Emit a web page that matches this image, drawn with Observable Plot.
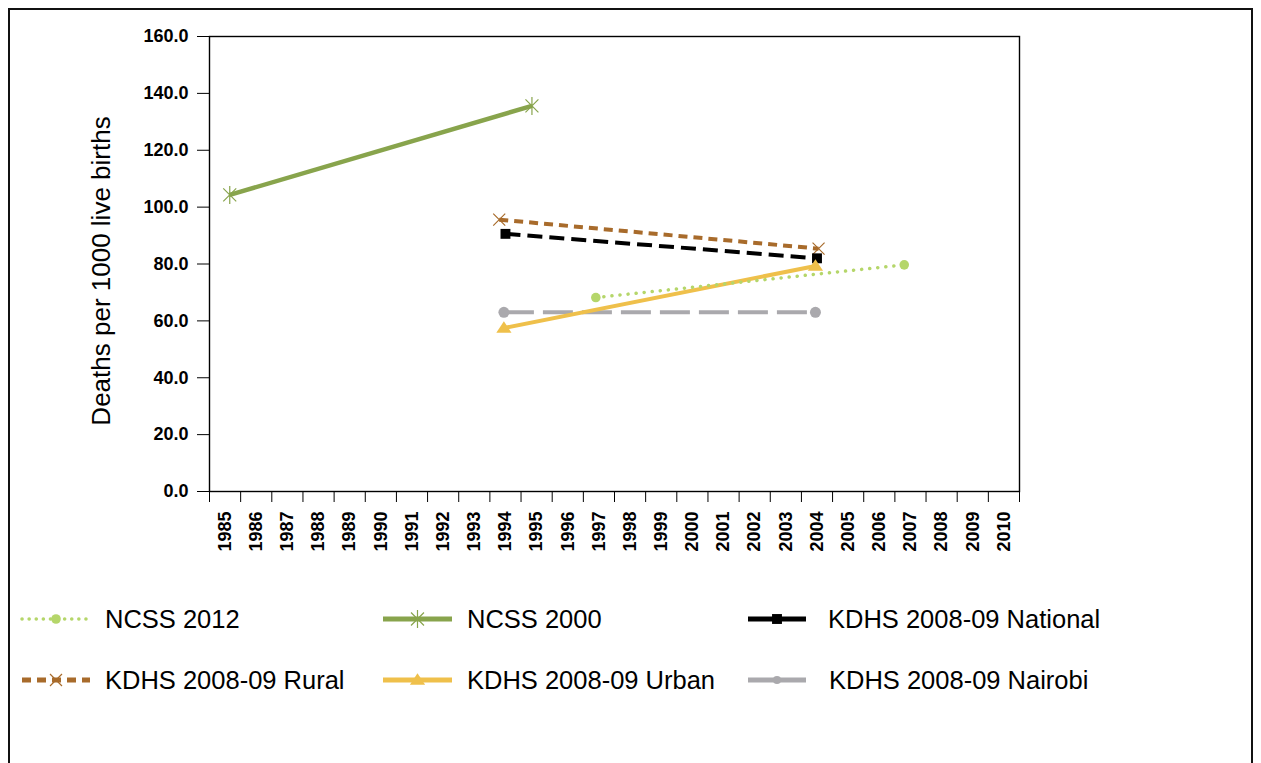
<!DOCTYPE html>
<html><head><meta charset="utf-8">
<script src="https://cdn.jsdelivr.net/npm/d3@7"></script>
<script src="https://cdn.jsdelivr.net/npm/@observablehq/plot@0.6"></script>
<style>
html,body{margin:0;padding:0;background:#fff;font-family:"Liberation Sans",Arial,Helvetica,sans-serif;}
#frame{position:absolute;left:8px;top:8px;width:1245px;height:800px;border:2px solid #111;box-sizing:border-box;}
#chart{position:absolute;left:0;top:0;}
.leg{position:absolute;display:flex;align-items:center;font-size:25.5px;color:#000;height:30px;}
.leg svg{display:block;}
</style></head><body>
<div id="frame"></div>
<div id="chart"></div>
<div id="legend"></div>
<script>
// ---- data ----
const yearTicks = [1985,1986,1987,1988,1989,1990,1991,1992,1993,1994,1995,1996,1997,1998,1999,2000,2001,2002,2003,2004,2005,2006,2007,2008,2009,2010];
const yTicks = [0,20,40,60,80,100,120,140,160];
const seriesNames = ["NCSS 2012","NCSS 2000","KDHS 2008-09 National","KDHS 2008-09 Rural","KDHS 2008-09 Urban","KDHS 2008-09 Nairobi"];
const ncss2012Years = [1996.9, 2006.8];
const ncss2012Values = [68.2, 79.7];
const ncss2000Years = [1985.15, 1994.85];
const ncss2000Values = [104.3, 135.6];
const nationalYears = [1994.0, 2004.0];
const nationalValues = [90.6, 82.0];
const ruralYears = [1993.8, 2004.05];
const ruralValues = [95.6, 85.4];
const urbanYears = [1993.95, 2003.95];
const urbanValues = [57.5, 79.3];
const nairobiYears = [1993.95, 2003.95];
const nairobiValues = [63.0, 63.0];
const yLabel = "Deaths per 1000 live births";

const rows = (ys, vs) => ys.map((y, i) => ({year: y, value: vs[i]}));

// custom symbols
const asterisk = {draw(ctx, size){ const r = Math.sqrt(size/Math.PI); const d = r*0.72;
  ctx.moveTo(-d,-d); ctx.lineTo(d,d); ctx.moveTo(-d,d); ctx.lineTo(d,-d); ctx.moveTo(0,-r); ctx.lineTo(0,r);}};
const cross = {draw(ctx, size){ const r = Math.sqrt(size/Math.PI); const d = r*0.75;
  ctx.moveTo(-d,-d); ctx.lineTo(d,d); ctx.moveTo(-d,d); ctx.lineTo(d,-d);}};
const tri = {draw(ctx, size){ const r = Math.sqrt(size/Math.PI);
  ctx.moveTo(0,-r*0.85); ctx.lineTo(r*0.95,r*0.6); ctx.lineTo(-r*0.95,r*0.6); ctx.closePath();}};
const sq = {draw(ctx, size){ const r = Math.sqrt(size/Math.PI)*0.9;
  ctx.rect(-r,-r,2*r,2*r);}};

const styles = [
  {name: seriesNames[0], data: rows(ncss2012Years, ncss2012Values), color:"#b5d66a", width:3.5, dash:"0.1 8", cap:"round", symbol:"circle", r:4.8, fill:true},
  {name: seriesNames[1], data: rows(ncss2000Years, ncss2000Values), color:"#88a44c", width:4.5, dash:null, cap:"butt", symbol:asterisk, r:9, fill:false},
  {name: seriesNames[2], data: rows(nationalYears, nationalValues), color:"#000000", width:4, dash:"15 7", cap:"butt", symbol:sq, r:5.5, fill:true},
  {name: seriesNames[3], data: rows(ruralYears, ruralValues), color:"#a86b2b", width:4, dash:"9 6", cap:"butt", symbol:cross, r:8, fill:false},
  {name: seriesNames[4], data: rows(urbanYears, urbanValues), color:"#efc04b", width:4, dash:null, cap:"butt", symbol:tri, r:8, fill:true},
  {name: seriesNames[5], data: rows(nairobiYears, nairobiValues), color:"#aaa9ad", width:4, dash:"30 9", cap:"butt", symbol:"circle", r:5.5, fill:true}
];

const bounds = yearTicks.map(y => y - 0.5).concat([yearTicks[yearTicks.length-1] + 0.5]);

const marks = [
  Plot.axisX({ticks: bounds, tickSize: 11, tickFormat: () => "", stroke:"#000", label: null}),
  Plot.axisX({ticks: yearTicks, tickSize: 0, tickPadding: 20, tickRotate: -90, tickFormat: d => String(d), fontSize: 18, fontWeight: "bold", label: null}),
  Plot.axisY({ticks: yTicks, tickSize: 12, tickPadding: 9, tickFormat: d => d.toFixed(1), fontSize: 18, fontWeight: "bold", label: null}),
  Plot.frame({stroke:"#000", strokeWidth:1.4}),
  Plot.text([yLabel], {frameAnchor:"left", textAnchor:"middle", dx:-108, dy:7, rotate:-90, fontSize:26, fontWeight:"normal", fill:"#000", text: d => d})
];
// draw series in order
const order = [5,3,2,1,4,0];
for (const i of order) {
  const s = styles[i];
  marks.push(Plot.line(s.data, {x:"year", y:"value", stroke:s.color, strokeWidth:s.width, strokeDasharray:s.dash, strokeLinecap:s.cap}));
}
for (const i of order) {
  const s = styles[i];
  marks.push(Plot.dot(s.data, {x:"year", y:"value", symbol:s.symbol, r:s.r,
    fill: s.fill ? s.color : "none", stroke: s.fill ? "none" : s.color, strokeWidth: s.fill ? 0 : 1.2}));
}

const chart = Plot.plot({
  width: 1261, height: 560,
  marginLeft: 209, marginRight: 242, marginTop: 36, marginBottom: 69,
  x: {type:"linear", domain:[bounds[0], bounds[bounds.length-1]], axis:null},
  y: {domain:[0,160], axis:null},
  style: {fontFamily:'"Liberation Sans", Arial, Helvetica, sans-serif', fontSize:"18px", color:"#000", background:"transparent"},
  marks
});
document.getElementById("chart").appendChild(chart);

// ---- legend ----
const legendPos = [
  {left: 20, top: 604, sw: 72, tx: 105},
  {left: 381, top: 604, sw: 73, tx: 467},
  {left: 746, top: 604, sw: 62, tx: 828},
  {left: 20, top: 665, sw: 72, tx: 105},
  {left: 381, top: 665, sw: 73, tx: 467},
  {left: 746, top: 665, sw: 62, tx: 829}
];
const legendDash = [ "0.1 7", null, null, "9 6", null, null ];
const legend = document.getElementById("legend");
styles.forEach((s, i) => {
  const p = legendPos[i];
  const w = p.sw, h = 30, cx = w/2, cy = h/2;
  const svg = d3.create("svg").attr("width", w).attr("height", h);
  svg.append("line").attr("x1", 2).attr("x2", w-2).attr("y1", cy).attr("y2", cy)
    .attr("stroke", s.color).attr("stroke-width", i===0 ? 3.5 : 5)
    .attr("stroke-dasharray", legendDash[i]).attr("stroke-linecap", i===0 ? "round" : "butt");
  const size = Math.PI * s.r * s.r * (i===5 ? 0.55 : 1);
  const path = d3.path();
  const sym = typeof s.symbol === "string" ? d3.symbolCircle : s.symbol;
  sym.draw(path, size);
  svg.append("path").attr("d", path.toString()).attr("transform", `translate(${cx},${cy})`)
    .attr("fill", s.fill ? s.color : "none").attr("stroke", s.fill ? "none" : s.color).attr("stroke-width", 1.2);
  const div = document.createElement("div");
  div.className = "leg";
  div.style.left = p.left + "px"; div.style.top = p.top + "px";
  div.appendChild(svg.node());
  const t = document.createElement("span");
  t.textContent = s.name;
  t.style.position = "absolute"; t.style.left = (p.tx - p.left) + "px"; t.style.whiteSpace = "nowrap";
  div.appendChild(t);
  legend.appendChild(div);
});
</script>
</body></html>
